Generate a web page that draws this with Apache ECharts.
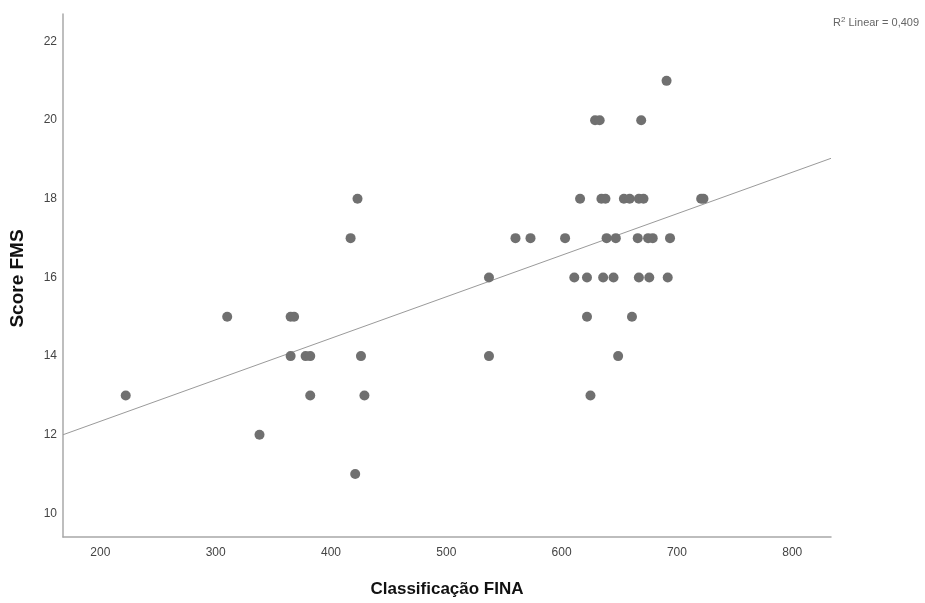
<!DOCTYPE html>
<html>
<head>
<meta charset="utf-8">
<script src="https://cdn.jsdelivr.net/npm/echarts@6/dist/echarts.min.js"></script>
<style>html,body{margin:0;padding:0;background:#fff}#c{width:925px;height:603px}</style>
</head>
<body>
<div id="c"></div>
<script>
// Classificação FINA (x) and Score FMS (y)
const finaScores = [
  423, 417, 310, 365, 368, 365, 378, 382, 426, 222, 382, 429, 338, 421,
  691, 629, 633, 669,
  616, 634.5, 638, 654, 659, 667, 671, 721, 723,
  560, 573, 603, 639, 647, 666, 675, 679, 694,
  537, 611, 622, 636, 645, 667, 676, 692,
  622, 661,
  537, 649,
  625
];
const fmsScores = [
  18, 17, 15, 15, 15, 14, 14, 14, 14, 13, 13, 13, 12, 11,
  21, 20, 20, 20,
  18, 18, 18, 18, 18, 18, 18, 18, 18,
  17, 17, 17, 17, 17, 17, 17, 17, 17,
  16, 16, 16, 16, 16, 16, 16, 16,
  15, 15,
  14, 14,
  13
];
// Fit line endpoints
const fitX = [167.6, 833.6];
const fitY = [12.0, 19.03];
const xTicks = [200, 300, 400, 500, 600, 700, 800];
const yTicks = [10, 12, 14, 16, 18, 20, 22];

const points = finaScores.map((x, i) => [x, fmsScores[i]]);
const fitLine = fitX.map((x, i) => [x, fitY[i]]);

const chart = echarts.init(document.getElementById('c'), null, {renderer: 'canvas'});
const FONT = 'Liberation Sans, Arial, sans-serif';
const labelFont = {fontFamily: FONT, fontSize: 12, color: '#444'};
chart.setOption({
  animation: false,
  backgroundColor: '#fff',
  grid: {left: 63, right: 94, top: 14, bottom: 61, containLabel: false},
  xAxis: {
    type: 'value', min: 167.6, max: 833.6,
    name: 'Classificação FINA', nameLocation: 'middle', nameGap: 44,
    nameTextStyle: {fontFamily: FONT, fontSize: 17, fontWeight: 'bold', color: '#111'},
    axisLine: {show: true, lineStyle: {color: '#a8a8a8', width: 1.5}},
    axisTick: {show: false},
    splitLine: {show: false},
    axisLabel: Object.assign({customValues: xTicks, margin: 10}, labelFont)
  },
  yAxis: {
    type: 'value', min: 9.4, max: 22.7,
    name: 'Score FMS', nameLocation: 'middle', nameGap: 36,
    nameTextStyle: {fontFamily: FONT, fontSize: 19, fontWeight: 'bold', color: '#111', padding: [0, 6, 0, 0]},
    axisLine: {show: true, lineStyle: {color: '#a8a8a8', width: 1.5}},
    axisTick: {show: false},
    splitLine: {show: false},
    axisLabel: Object.assign({customValues: yTicks, margin: 6}, labelFont)
  },
  graphic: [{
    type: 'text', left: 833, top: 16,
    style: {
      text: '{r|R}{s|2}{r| Linear = 0,409}',
      rich: {
        r: {fontFamily: FONT, fontSize: 11, fill: '#666', color: '#666'},
        s: {fontFamily: FONT, fontSize: 8, fill: '#666', color: '#666', verticalAlign: 'top', padding: [0, 0, 6, 0]}
      }
    }
  }],
  series: [
    {
      type: 'line', data: fitLine, showSymbol: false, silent: true,
      lineStyle: {color: '#9a9a9a', width: 1}, z: 1
    },
    {
      type: 'scatter', data: points, symbolSize: 10,
      itemStyle: {color: '#707070', opacity: 1}, z: 2
    }
  ]
});
</script>
</body>
</html>
